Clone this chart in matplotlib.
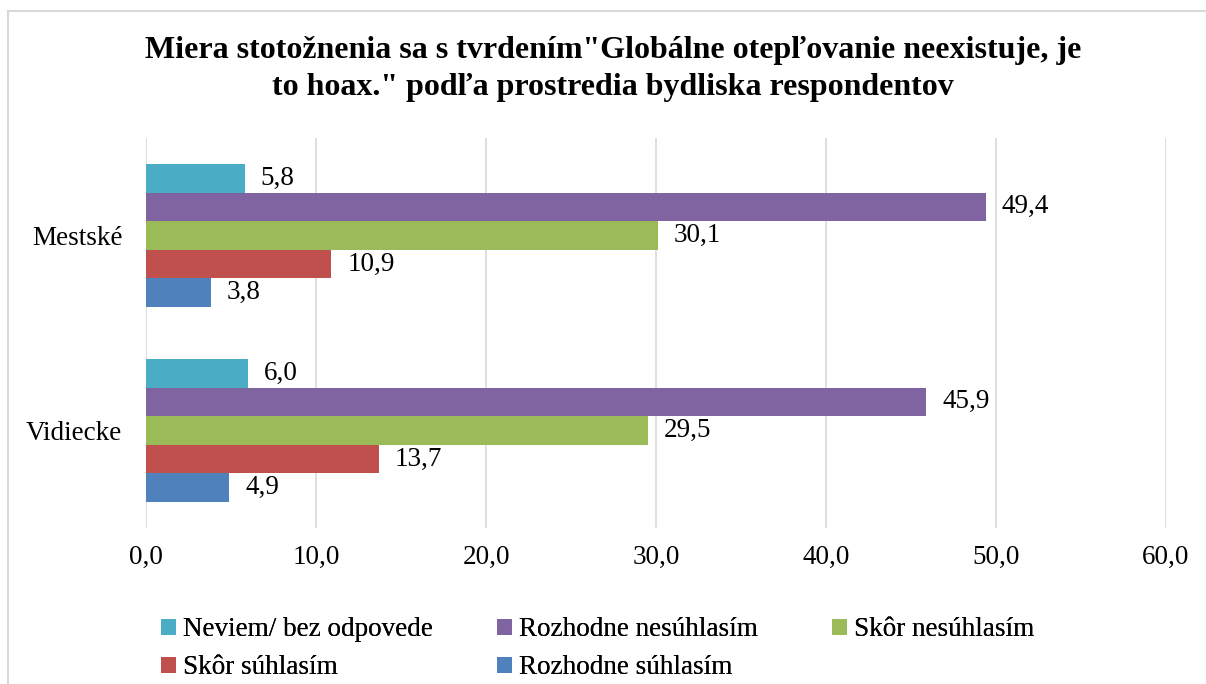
import matplotlib
matplotlib.use("Agg")
import matplotlib.pyplot as plt
from matplotlib.patches import Patch
from matplotlib.lines import Line2D

categories = ["Vidiecke", "Mestské"]
series_names = ["Neviem/ bez odpovede", "Rozhodne nesúhlasím", "Skôr nesúhlasím",
                "Skôr súhlasím", "Rozhodne súhlasím"]
values = {
    "Neviem/ bez odpovede": [6.0, 5.8],
    "Rozhodne nesúhlasím": [45.9, 49.4],
    "Skôr nesúhlasím": [29.5, 30.1],
    "Skôr súhlasím": [13.7, 10.9],
    "Rozhodne súhlasím": [4.9, 3.8],
}
colors = ["#4BACC6", "#8064A2", "#9BBB59", "#C0504D", "#4F81BD"]
xticks = [0, 10, 20, 30, 40, 50, 60]
title = 'Miera stotožnenia sa s tvrdením"Globálne otepľovanie neexistuje, je\nto hoax." podľa prostredia bydliska respondentov'

plt.rcParams['font.family'] = ['Liberation Serif', 'DejaVu Serif']

W, H = 1206, 684
fig = plt.figure(figsize=(W/100, H/100), dpi=100)
ax = fig.add_axes([146/W, (H-528)/H, (1166-146)/W, (528-138)/H])

FS = 19.5
h = 0.147
for i, name in enumerate(series_names):
    ys = [c + (2 - i) * h for c in range(len(categories))]
    vals = values[name]
    ax.barh(ys, vals, height=h, color=colors[i], zorder=3)
    for y, v in zip(ys, vals):
        ax.text(v + 0.95, y, f"{v:.1f}".replace(".", ","), va="center", ha="left",
                fontsize=FS, color="black")

ax.set_xlim(0, 60)
ax.set_ylim(-0.5, 1.5)
ax.set_xticks(xticks)
ax.set_xticklabels([f"{t:.1f}".replace(".", ",") for t in xticks], fontsize=FS)
ax.set_yticks(range(len(categories)))
ax.set_yticklabels(categories, fontsize=FS)
ax.tick_params(axis="both", length=0)
ax.tick_params(axis="x", pad=12)
ax.tick_params(axis="y", pad=17)
ax.grid(axis="x", color="#D9D9D9", linewidth=1.2, zorder=0)
for s in ax.spines.values():
    s.set_visible(False)

fig.text(613/W, 1 - 69/H, title, ha="center", va="center", fontsize=23,
         fontweight="bold", linespacing=1.32)

# chart border (top and left edges visible)
fig.add_artist(Line2D([8/W, 8/W], [0, 1 - 11/H], transform=fig.transFigure,
                      color="#D9D9D9", linewidth=1.5))
fig.add_artist(Line2D([8/W, 1], [1 - 11/H, 1 - 11/H], transform=fig.transFigure,
                      color="#D9D9D9", linewidth=1.5))

# legend
pos = [(161, 630), (497, 630), (832, 630), (161, 668), (497, 668)]
for (px, py), name, col in zip(pos, series_names, colors):
    leg = fig.legend(handles=[Patch(facecolor=col, label=name)], loc="center left",
                     bbox_to_anchor=(px/W, 1 - py/H), frameon=False, fontsize=FS,
                     handlelength=0.55, handleheight=0.55, handletextpad=0.25,
                     borderpad=0, borderaxespad=0)
    fig.add_artist(leg)

fig.savefig("out.png", dpi=100)
